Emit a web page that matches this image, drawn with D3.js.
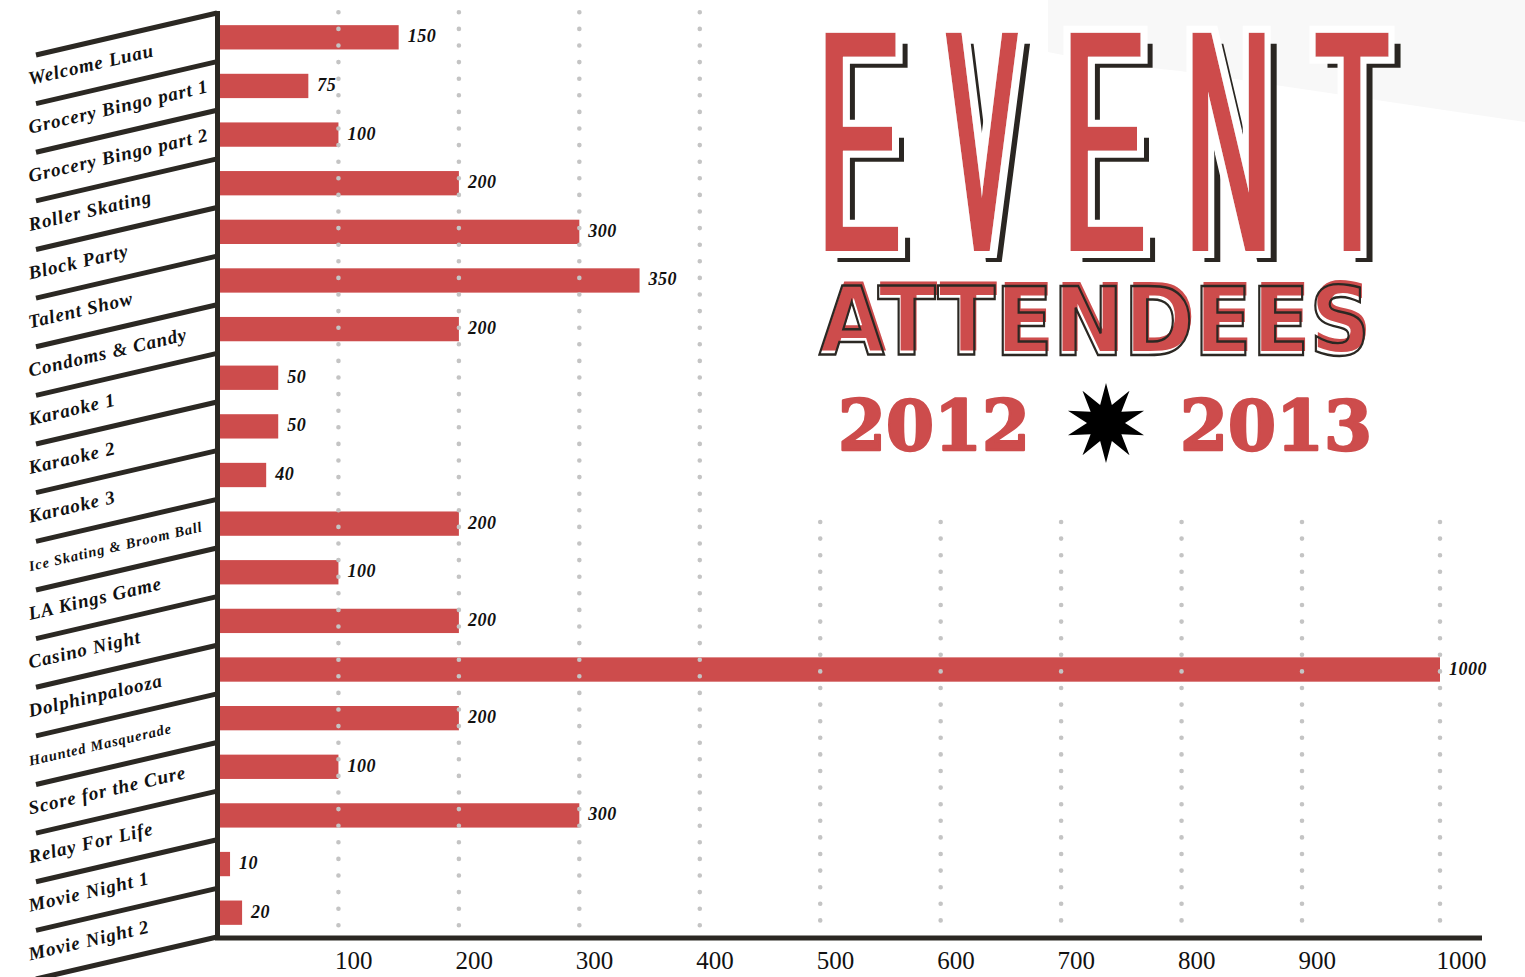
<!DOCTYPE html>
<html><head><meta charset="utf-8">
<script src="https://cdn.jsdelivr.net/npm/d3@7"></script>
<style>body{margin:0;background:#fff;} svg{display:block}</style>
</head><body><svg id="c" width="1525" height="977"></svg>
<script>
const categories = ["Welcome Luau","Grocery Bingo part 1","Grocery Bingo part 2","Roller Skating","Block Party","Talent Show","Condoms & Candy","Karaoke 1","Karaoke 2","Karaoke 3","Ice Skating & Broom Ball","LA Kings Game","Casino Night","Dolphinpalooza","Haunted Masquerade","Score for the Cure","Relay For Life","Movie Night 1","Movie Night 2"];
const attendees = [150,75,100,200,300,350,200,50,50,40,200,100,200,1000,200,100,300,10,20];
const tickValues = [100,200,300,400,500,600,700,800,900,1000];
const gridUpper = [100,200,300,400];
const gridLower = [500,600,700,800,900,1000];
const smallLabels = ["Ice Skating & Broom Ball","Haunted Masquerade"];
const titleWord = "EVENT";
const subtitle = "ATTENDEES";
const years = ["2012","2013"];

const RED = "#cd4c4c", INK = "#2b2823", DOT = "#c4c4c4";
const svg = d3.select("#c");
const defs = svg.append("defs");

// faint background swoosh
svg.append("path").attr("d","M1048,0 L1048,52 Q1100,63 1180,71 L1525,122 L1525,0 Z").attr("fill","#f8f8f8");

const x = d3.scaleLinear().domain([0,900,1000]).range([218,1302,1440]);
const y = d3.scaleBand().domain(categories).range([13,937]).paddingInner(0.5).paddingOuter(0.25);
const step = y.step();
const rise = 42, leftX = 36, rightX = 217;
const ang = Math.atan2(rise, rightX-leftX)*180/Math.PI;

// bars
svg.append("g").selectAll("rect").data(categories).join("rect")
  .attr("x", x(0)).attr("y", d=>y(d)).attr("height", y.bandwidth())
  .attr("width", (d,i)=>x(attendees[i])-x(0)).attr("fill", RED);

// dotted grid
function dots(vals, y1, y2){
  svg.append("g").selectAll("line").data(vals).join("line")
    .attr("x1", d=>x(d)).attr("x2", d=>x(d)).attr("y1", y1).attr("y2", y2)
    .attr("stroke", DOT).attr("stroke-width", 4.6).attr("stroke-linecap","round")
    .attr("stroke-dasharray","0 16.6");
}
dots(gridUpper, 12.3, 928);
dots(gridLower, 522, 922);

// value labels
svg.append("g").selectAll("text").data(categories).join("text")
  .attr("x", (d,i)=>x(attendees[i])+9).attr("y", d=>y(d)+y.bandwidth()/2+5)
  .attr("font-family","'Liberation Serif', serif").attr("font-weight","bold").attr("font-style","italic")
  .attr("font-size",18).attr("letter-spacing",0.5).attr("fill","#111")
  .text((d,i)=>attendees[i]);

// slanted separators
const bounds = d3.range(categories.length+1).map(k => y.range()[0] + k*step);
svg.append("g").selectAll("line").data(bounds).join("line")
  .attr("x1", leftX).attr("y1", b=>b+rise).attr("x2", rightX).attr("y2", b=>b)
  .attr("stroke", INK).attr("stroke-width", 5);

// category labels
svg.append("g").selectAll("text").data(categories).join("text")
  .attr("transform", d => {
    const lower = y(d) - step*y.paddingOuter() + step;
    const by = lower + rise + (leftX-30)*Math.tan(ang*Math.PI/180) - 20;
    return `translate(30,${by}) rotate(${-ang})`;
  })
  .attr("font-family","'Liberation Serif', serif").attr("font-weight","bold").attr("font-style","italic")
  .attr("font-size", d => smallLabels.includes(d) ? 14.5 : 19).attr("letter-spacing",0.9).attr("fill","#111")
  .text(d=>d);

// vertical spine and bottom axis line
svg.append("line").attr("x1",217.5).attr("x2",217.5).attr("y1",11).attr("y2",940).attr("stroke",INK).attr("stroke-width",5);
svg.append("line").attr("x1",215).attr("x2",1482).attr("y1",938).attr("y2",938).attr("stroke",INK).attr("stroke-width",5);

// axis tick labels
const ax = svg.append("g").attr("transform","translate(0,938)")
  .call(d3.axisBottom(x).tickValues(tickValues).tickSize(0).tickFormat(d3.format("d")));
ax.select(".domain").remove();
ax.selectAll("text").attr("text-anchor","start").attr("x",-4).attr("y",31).attr("dy",0)
  .attr("font-family","'Liberation Serif', serif").attr("font-size",25).attr("fill","#111");

// ===== Title: EVENT =====
const ctx = document.createElement("canvas").getContext("2d");
const tFont = "'Liberation Sans', Arial, sans-serif";
ctx.font = `400 100px ${tFont}`;
const capA = ctx.measureText("E").actualBoundingBoxAscent;
const capTop = 32, base = 251;
const fs = 100*(base-capTop)/capA;
const lefts = [825, 945, 1070, 1192, 1315];
const gT = svg.append("g");
const thick = 3.2, halo = 6.5;
titleWord.split("").forEach((ch,i)=>{
  ctx.font = `400 100px ${tFont}`;
  const m = ctx.measureText(ch);
  const k = fs/100;
  const w = (m.actualBoundingBoxLeft + m.actualBoundingBoxRight)*k;
  const sx = (74 - 2*thick)/w;
  const tx = lefts[i] + thick + sx*m.actualBoundingBoxLeft*k;
  const fS = defs.append("filter").attr("id","sh"+i).attr("x","-30%").attr("y","-10%").attr("width","160%").attr("height","120%");
  fS.append("feMorphology").attr("in","SourceGraphic").attr("operator","dilate").attr("radius",`${thick/sx} 0.01`);
  const fR = defs.append("filter").attr("id","rd"+i).attr("x","-40%").attr("y","-15%").attr("width","180%").attr("height","130%");
  fR.append("feMorphology").attr("in","SourceGraphic").attr("operator","dilate").attr("radius",`${thick/sx} 0.01`).attr("result","r");
  fR.append("feMorphology").attr("in","r").attr("operator","dilate").attr("radius",`${halo/sx} ${halo}`).attr("result","h");
  fR.append("feColorMatrix").attr("in","h").attr("type","matrix")
    .attr("values","0 0 0 0 1  0 0 0 0 1  0 0 0 0 1  0 0 0 1 0").attr("result","hw");
  const mg = fR.append("feMerge");
  mg.append("feMergeNode").attr("in","hw");
  mg.append("feMergeNode").attr("in","r");
  gT.append("text").attr("transform",`translate(${tx+12},${base+11}) scale(${sx},1)`)
    .attr("font-family",tFont).attr("font-size",fs).attr("fill",INK).attr("filter",`url(#sh${i})`).text(ch);
  gT.append("text").attr("transform",`translate(${tx},${base}) scale(${sx},1)`)
    .attr("font-family",tFont).attr("font-size",fs).attr("fill",RED).attr("filter",`url(#rd${i})`).text(ch);
});

// ===== ATTENDEES =====
const sFont = "'DejaVu Sans', sans-serif";
svg.append("text").attr("x",821).attr("y",351).attr("font-family",sFont).attr("font-weight","bold")
  .attr("font-size",94).attr("textLength",551).attr("lengthAdjust","spacingAndGlyphs")
  .attr("fill",RED).text(subtitle);
svg.append("text").attr("x",819).attr("y",355).attr("font-family",sFont).attr("font-weight","bold")
  .attr("font-size",94).attr("textLength",551).attr("lengthAdjust","spacingAndGlyphs")
  .attr("fill","none").attr("stroke",INK).attr("stroke-width",2.4).text(subtitle);

// ===== years and star =====
const yFont = "'DejaVu Serif', serif";
[[838,years[0]],[1180,years[1]]].forEach(([xx,t])=>{
  svg.append("text").attr("x",xx).attr("y",450).attr("font-family",yFont).attr("font-weight","bold")
    .attr("font-size",70).attr("textLength",192).attr("lengthAdjust","spacingAndGlyphs")
    .attr("fill",RED).attr("stroke",RED).attr("stroke-width",2.5).attr("stroke-linejoin","round").text(t);
});
const starPts = d3.range(20).map(j => [j*Math.PI/10, j%2===0 ? 40 : 19]);
svg.append("path").attr("transform","translate(1106,423)")
  .attr("d", d3.lineRadial().angle(d=>d[0]).radius(d=>d[1]).curve(d3.curveLinearClosed)(starPts))
  .attr("fill","#000");
</script></body></html>
